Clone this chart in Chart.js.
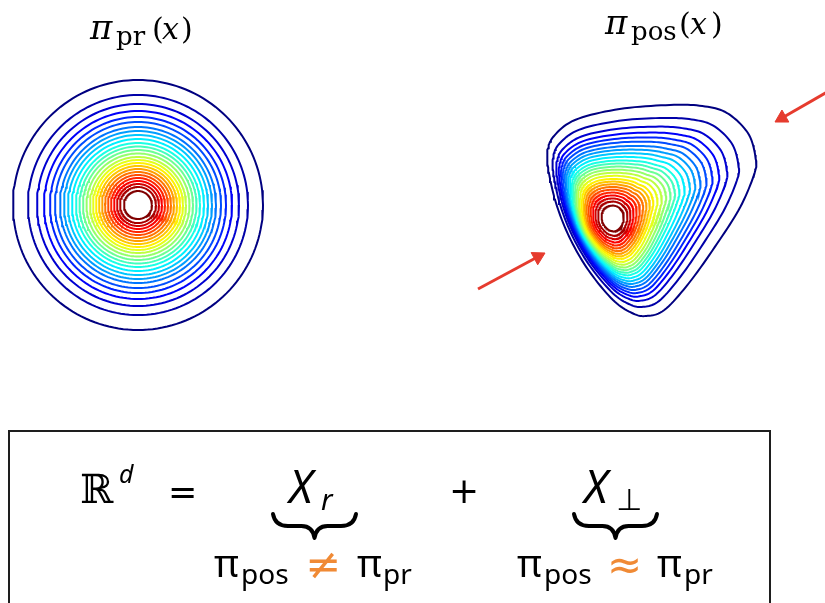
<!DOCTYPE html>
<html lang="en">
<head>
  <meta charset="UTF-8">
  <title>Prior vs posterior contours</title>
  <script src="https://cdn.jsdelivr.net/npm/chart.js"></script>
  <style>
    html, body { margin: 0; padding: 0; background: #fff; overflow: hidden; }
    canvas { display: block; }
  </style>
</head>
<body>
  <canvas id="fig" width="825" height="603"></canvas>

  <script>
    // prior: concentric contour radii, outer -> inner (page px)
    const priorCenter = [138, 205];
    const priorRadii = [125, 110, 101, 94, 88, 83, 78, 74, 70, 66, 62, 58.5, 55, 51.5, 48, 45, 42, 39, 36, 33, 30, 27, 24, 21, 18, 14];

    // posterior: outermost contour traced clockwise from the top
    const posCenter = [613, 218];
    const posOuterX = [673, 707, 733, 755, 763, 762, 747, 723, 693, 667, 648, 633, 613, 587, 567, 553, 545, 544, 550, 573, 620];
    const posOuterY = [105, 106, 113, 133, 157, 173, 207, 243, 283, 310, 316, 313, 300, 270, 237, 203, 170, 153, 137, 120, 109];
    // how much the inner levels crowd toward each side (1 = even spacing)
    const posSkew = [0.95, 1, 1, 1, 1, 1, 1, 0.95, 0.88, 0.82, 0.77, 0.72, 0.66, 0.6, 0.56, 0.57, 0.64, 0.7, 0.76, 0.83, 0.9];
    // relative size of each level, outer -> inner
    const posLevels = [1.0, 0.88, 0.8, 0.745, 0.7, 0.66, 0.62, 0.585, 0.55, 0.515, 0.48, 0.45, 0.42, 0.39, 0.36, 0.33, 0.3, 0.275, 0.25, 0.225, 0.2, 0.175, 0.15, 0.125, 0.1, 0.07];

    // red arrows: tail -> tip
    const arrowTails = [[478, 289], [836, 87]];
    const arrowTips = [[545, 253], [775, 122]];

    const RED = '#e63b2e';
    const ORANGE = '#f08a35';

    function jet(t) {
      const c = v => Math.round(255 * Math.max(0, Math.min(1, v)));
      return 'rgb(' + c(1.5 - Math.abs(4 * t - 3)) + ',' + c(1.5 - Math.abs(4 * t - 2)) + ',' + c(1.5 - Math.abs(4 * t - 1)) + ')';
    }

    // closed catmull-rom through the traced vertices
    function smoothClosed(pts, steps) {
      const out = [];
      const m = pts.length;
      for (let i = 0; i < m; i++) {
        const p0 = pts[(i - 1 + m) % m], p1 = pts[i], p2 = pts[(i + 1) % m], p3 = pts[(i + 2) % m];
        for (let s = 0; s < steps; s++) {
          const t = s / steps, t2 = t * t, t3 = t2 * t;
          const f = k => 0.5 * (2 * p1[k] + (-p0[k] + p2[k]) * t + (2 * p0[k] - 5 * p1[k] + 4 * p2[k] - p3[k]) * t2 + (-p0[k] + 3 * p1[k] - 3 * p2[k] + p3[k]) * t3);
          out.push({ x: f(0), y: f(1) });
        }
      }
      out.push(out[0]);
      return out;
    }

    const datasets = [];

    priorRadii.forEach((r, k) => {
      const pts = [];
      for (let i = 0; i <= 160; i++) {
        const a = i / 160 * 2 * Math.PI;
        pts.push({ x: priorCenter[0] + r * Math.cos(a), y: priorCenter[1] + r * Math.sin(a) });
      }
      datasets.push({ data: pts, borderColor: jet(k / (priorRadii.length - 1)), borderWidth: 2, pointRadius: 0, tension: 0, fill: false });
    });

    posLevels.forEach((lv, k) => {
      const [cx, cy] = posCenter;
      const rad = posOuterX.map((vx, j) => Math.hypot(vx - cx, posOuterY[j] - cy) * Math.pow(lv, posSkew[j]));
      const mean = rad.reduce((a, b) => a + b, 0) / rad.length;
      // small levels round off toward an ellipse around the mode
      const w = Math.pow(1 - lv, 3);
      const verts = posOuterX.map((vx, j) => {
        const ang = Math.atan2(posOuterY[j] - cy, vx - cx);
        const r = rad[j] * (1 - w) + mean * w;
        return [cx + r * Math.cos(ang) * 0.95, cy + r * Math.sin(ang) * (1 + 0.1 * w)];
      });
      datasets.push({ data: smoothClosed(verts, 10), borderColor: jet(k / (posLevels.length - 1)), borderWidth: 2, pointRadius: 0, tension: 0, fill: false });
    });

    arrowTails.forEach((tail, i) => {
      const tip = arrowTips[i];
      const dx = tip[0] - tail[0], dy = tip[1] - tail[1];
      const len = Math.hypot(dx, dy);
      const head = 8;
      const hx = tip[0] - dx / len * head, hy = tip[1] - dy / len * head;
      const rot = Math.atan2(dx, -dy) * 180 / Math.PI;
      datasets.push({
        data: [{ x: tail[0], y: tail[1] }, { x: hx, y: hy }],
        borderColor: RED, borderWidth: 3, fill: false, tension: 0,
        pointRadius: [0, head], pointStyle: 'triangle', rotation: rot,
        pointBackgroundColor: RED, pointBorderColor: RED, pointBorderWidth: 1
      });
    });

    function put(ctx, text, x, y, font, color) {
      ctx.save();
      ctx.font = font;
      ctx.fillStyle = color || '#000';
      ctx.textBaseline = 'alphabetic';
      ctx.textAlign = 'left';
      ctx.fillText(text, x, y);
      ctx.restore();
    }

    function brace(ctx, L, R, T, B) {
      const M = (L + R) / 2, mid = T + (B - T) * 0.5;
      ctx.save();
      ctx.strokeStyle = '#000';
      ctx.lineWidth = 4;
      ctx.lineCap = 'round';
      ctx.lineJoin = 'round';
      ctx.beginPath();
      ctx.moveTo(L, T);
      ctx.quadraticCurveTo(L + 2, mid, L + 15, mid);
      ctx.lineTo(M - 13, mid);
      ctx.quadraticCurveTo(M - 2, mid, M, B);
      ctx.quadraticCurveTo(M + 2, mid, M + 13, mid);
      ctx.lineTo(R - 15, mid);
      ctx.quadraticCurveTo(R - 2, mid, R, T);
      ctx.stroke();
      ctx.restore();
    }

    const annotations = {
      id: 'annotations',
      afterDraw(chart) {
        const ctx = chart.ctx;
        const serif = '"DejaVu Serif"';
        const sans = '"Noto Sans"';

        // titles
        put(ctx, 'π', 90, 39, 'italic 34px ' + serif);
        put(ctx, 'pr', 116, 45, '26px ' + serif);
        put(ctx, '(', 152, 39, '30px ' + serif);
        put(ctx, 'x', 162, 39, 'italic 30px ' + serif);
        put(ctx, ')', 181, 39, '30px ' + serif);

        put(ctx, 'π', 605, 34, 'italic 34px ' + serif);
        put(ctx, 'pos', 631, 40, '26px ' + serif);
        put(ctx, '(', 679, 34, '30px ' + serif);
        put(ctx, 'x', 690, 34, 'italic 30px ' + serif);
        put(ctx, ')', 711, 34, '30px ' + serif);

        // formula box
        ctx.save();
        ctx.strokeStyle = '#1e1e1e';
        ctx.lineWidth = 2;
        ctx.strokeRect(9, 431, 761, 200);
        ctx.restore();

        put(ctx, 'ℝ', 80, 503, '40px ' + serif);
        put(ctx, 'd', 119, 483, 'italic 25px ' + sans);
        put(ctx, '=', 168, 504, '35px "DejaVu Sans"');
        put(ctx, 'X', 289, 503, 'italic 45px ' + sans);
        put(ctx, 'r', 321, 510, 'italic 29px ' + sans);
        brace(ctx, 273, 356, 514, 538);
        put(ctx, '+', 449, 503, '36px "DejaVu Sans"');
        put(ctx, 'X', 584, 503, 'italic 45px ' + sans);
        put(ctx, '⊥', 616, 510, '30px "DejaVu Sans"');
        brace(ctx, 574, 657, 514, 538);

        put(ctx, 'π', 214, 577, '38px ' + sans);
        put(ctx, 'pos', 241, 584, '28px ' + sans);
        put(ctx, '≠', 305, 579, '43px "DejaVu Sans"', ORANGE);
        put(ctx, 'π', 357, 577, '38px ' + sans);
        put(ctx, 'pr', 383, 584, '28px ' + sans);

        put(ctx, 'π', 517, 577, '38px ' + sans);
        put(ctx, 'pos', 544, 584, '28px ' + sans);
        put(ctx, '≈', 607, 579, '42px "DejaVu Sans"', ORANGE);
        put(ctx, 'π', 657, 577, '38px ' + sans);
        put(ctx, 'pr', 684, 584, '28px ' + sans);
      }
    };

    new Chart(document.getElementById('fig').getContext('2d'), {
      type: 'line',
      data: { datasets: datasets },
      options: {
        responsive: false,
        animation: false,
        events: [],
        layout: { padding: 0, autoPadding: false },
        plugins: { legend: { display: false }, tooltip: { enabled: false } },
        scales: {
          x: { type: 'linear', min: 0, max: 825, display: false },
          y: { type: 'linear', min: 0, max: 603, reverse: true, display: false }
        }
      },
      plugins: [annotations]
    });
  </script>
</body>
</html>
